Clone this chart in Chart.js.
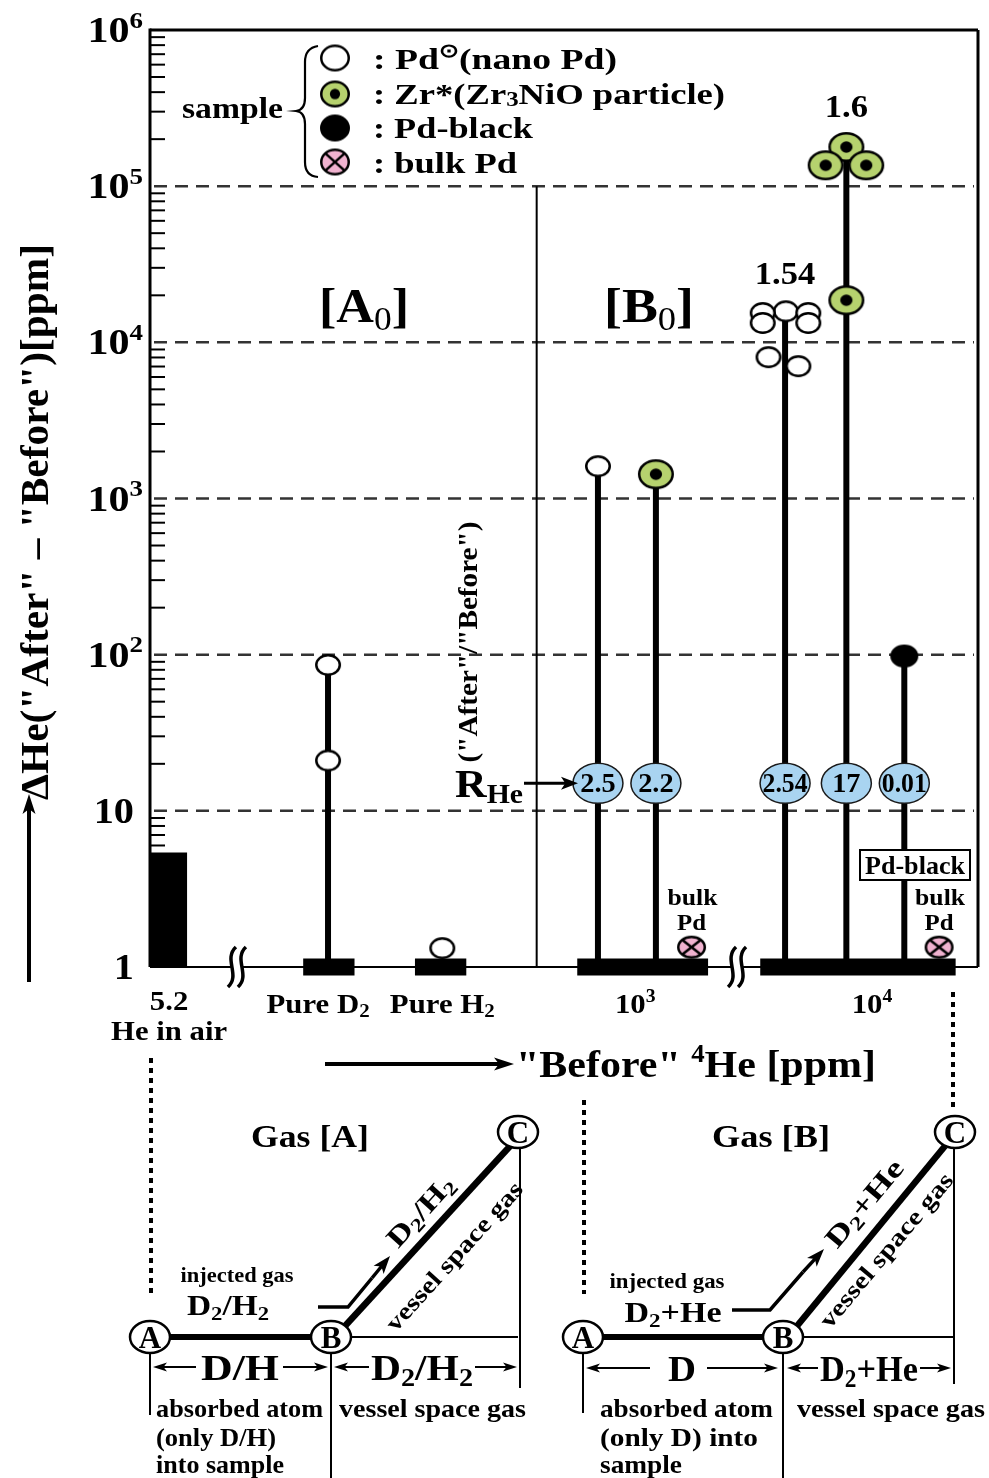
<!DOCTYPE html>
<html>
<head>
<meta charset="utf-8">
<script src="https://cdn.jsdelivr.net/npm/chart.js"></script>
<style>
  html, body { margin: 0; padding: 0; background: #fff; }
  #wrap { width: 989px; height: 1478px; }
</style>
</head>
<body>
<div id="wrap"><canvas id="chart" width="989" height="1478"></canvas></div>
<script>
// ---------- data ----------
// y axis (log) ticks
const yTickValues = [1, 10, 100, 1000, 10000, 100000, 1000000];
const yTickExps = ['', '', '2', '3', '4', '5', '6'];
const gridValues = [10, 100, 1000, 10000, 100000];

// x axis is schematic: positions 0..100 across the frame
const xTickPos = [2.3, 20.3, 35.3, 58.6, 87.2];
const xTickMain = ['5.2', 'Pure D', 'Pure H', '10', '10'];
const xTickScript = ['', '2', '2', '3', '4'];
const breakPos = [10.5, 70.9];
const separatorPos = 46.7;

// He in air bar
const heAirRange = [0, 4.5];
const heAirValue = 5.4;

// thick base bars on the x axis
const baseStart = [18.5, 32.0, 51.6, 73.7];
const baseEnd = [24.7, 38.2, 67.4, 97.3];

// stems: Pure D2, nano Pd 1e3, Zr* 1e3, nano Pd 1e4, Zr* 1e4, Pd-black 1e4
const stemX = [21.5, 54.1, 61.1, 76.7, 84.1, 91.1];
const stemTop = [86, 1610, 1430, 15800, 178000, 98];

// markers
const nanoPdX = [21.5, 21.5, 35.3, 54.1, 76.8, 74.0, 79.5, 74.0, 79.5, 74.7, 78.3];
const nanoPdY = [86, 21, 1.32, 1610, 15800, 15400, 15400, 13300, 13300, 8040, 7040];
const zrX = [61.1, 84.1, 81.6, 86.5, 84.1];
const zrY = [1430, 178000, 136000, 136000, 18600];
const pdBlackX = [91.1];
const pdBlackY = [98];
const bulkPdX = [65.4, 95.3];
const bulkPdY = [1.34, 1.34];

// R_He ratios in the blue ovals
const rheX = [54.1, 61.1, 76.7, 84.1, 91.1];
const rheText = ['2.5', '2.2', '2.54', '17', '0.01'];
const rheLevel = 15;

// ratio labels above clusters
const ratioX = [76.7, 84.1];
const ratioY = [23600, 276000];
const ratioText = ['1.54', '1.6'];

// ---------- helpers ----------
const FONT = '"Liberation Serif", "Times New Roman", serif';

function rich(ctx, parts, x, y, size, o) {
  o = o || {};
  const align = o.align || 'left';
  let total = 0;
  const segs = parts.map(p => {
    const t = p[0], m = p[1] || 'n';
    const wt = p[2] || 'bold';
    let s = size, dy = 0;
    if (m === 'sub') { s = size * 0.68; dy = size * 0.16; }
    if (m === 'sup') { s = size * 0.64; dy = -size * 0.40; }
    if (m === 'low') { s = size * 0.68; dy = size * 0.05; }
    ctx.font = wt + ' ' + s + 'px ' + FONT;
    const wd = ctx.measureText(t).width;
    total += wd;
    return { t, s, dy, wd, wt };
  });
  const sx = o.width ? o.width / total : (o.sx || 1);
  ctx.save();
  ctx.translate(x, y);
  if (o.rot) ctx.rotate(o.rot);
  ctx.scale(sx, 1);
  ctx.fillStyle = o.color || '#000';
  ctx.textAlign = 'left';
  ctx.textBaseline = 'alphabetic';
  let cx = align === 'center' ? -total / 2 : align === 'right' ? -total : 0;
  const vy = o.vmid ? size * 0.34 : 0;
  for (const g of segs) {
    ctx.font = g.wt + ' ' + g.s + 'px ' + FONT;
    ctx.fillText(g.t, cx, g.dy + vy);
    cx += g.wd;
  }
  ctx.restore();
  return total * sx;
}

function arrow(ctx, x1, y1, x2, y2, lw, hl, hw) {
  const a = Math.atan2(y2 - y1, x2 - x1);
  ctx.save();
  ctx.strokeStyle = '#000';
  ctx.fillStyle = '#000';
  ctx.lineWidth = lw;
  ctx.beginPath();
  ctx.moveTo(x1, y1);
  ctx.lineTo(x2 - Math.cos(a) * hl * 0.7, y2 - Math.sin(a) * hl * 0.7);
  ctx.stroke();
  ctx.translate(x2, y2);
  ctx.rotate(a);
  ctx.beginPath();
  ctx.moveTo(0, 0);
  ctx.lineTo(-hl, -hw / 2);
  ctx.lineTo(-hl * 0.75, 0);
  ctx.lineTo(-hl, hw / 2);
  ctx.closePath();
  ctx.fill();
  ctx.restore();
}

function line(ctx, x1, y1, x2, y2, lw, dash) {
  ctx.save();
  ctx.strokeStyle = '#000';
  ctx.lineWidth = lw;
  if (dash) ctx.setLineDash(dash);
  ctx.beginPath();
  ctx.moveTo(x1, y1);
  ctx.lineTo(x2, y2);
  ctx.stroke();
  ctx.restore();
}

function makeMarker(kind, w, h) {
  const c = document.createElement('canvas');
  c.width = w + 4;
  c.height = h + 4;
  const g = c.getContext('2d');
  const cx = c.width / 2, cy = c.height / 2, rx = w / 2, ry = h / 2;
  g.lineWidth = 2.5;
  g.strokeStyle = '#000';
  g.beginPath();
  g.ellipse(cx, cy, rx - 1.25, ry - 1.25, 0, 0, Math.PI * 2);
  if (kind === 'nano') { g.fillStyle = '#fff'; g.fill(); g.stroke(); }
  if (kind === 'zr') {
    g.fillStyle = '#b6d26e'; g.fill(); g.stroke();
    g.beginPath();
    g.ellipse(cx, cy, rx * 0.34, ry * 0.38, 0, 0, Math.PI * 2);
    g.fillStyle = '#000'; g.fill();
  }
  if (kind === 'black') { g.fillStyle = '#000'; g.fill(); g.stroke(); }
  if (kind === 'bulk') {
    g.fillStyle = '#f0b2cf'; g.fill(); g.stroke();
    const d = 0.68;
    g.beginPath();
    g.moveTo(cx - rx * d, cy - ry * d); g.lineTo(cx + rx * d, cy + ry * d);
    g.moveTo(cx + rx * d, cy - ry * d); g.lineTo(cx - rx * d, cy + ry * d);
    g.stroke();
  }
  return c;
}

const nanoImg = makeMarker('nano', 26, 22);
const zrImg = makeMarker('zr', 36, 30);
const blackImg = makeMarker('black', 28, 23);
const bulkImg = makeMarker('bulk', 29, 23);

function pts(xs, ys) { return xs.map((x, i) => ({ x: x, y: ys[i] })); }

// ---------- datasets ----------
const datasets = [];

datasets.push({
  label: 'He in air',
  data: [{ x: heAirRange[0], y: heAirValue }, { x: heAirRange[1], y: heAirValue }],
  borderWidth: 0, pointRadius: 0, fill: 'start', backgroundColor: '#000', order: 10
});

baseStart.forEach((s, i) => {
  datasets.push({
    label: 'base ' + i,
    data: [{ x: s, y: 1 }, { x: baseEnd[i], y: 1 }],
    borderColor: '#000', borderWidth: 17, borderCapStyle: 'butt',
    pointRadius: 0, clip: false, order: 8
  });
});

stemX.forEach((x, i) => {
  datasets.push({
    label: 'stem ' + i,
    data: [{ x: x, y: 1 }, { x: x, y: stemTop[i] }],
    borderColor: '#000', borderWidth: 6, borderCapStyle: 'butt',
    pointRadius: 0, clip: false, order: 6
  });
});

datasets.push({ label: 'Pd (nano Pd)', data: pts(nanoPdX, nanoPdY), showLine: false, pointStyle: nanoImg, pointRadius: 10, order: 1 });
datasets.push({ label: 'Zr*', data: pts(zrX, zrY), showLine: false, pointStyle: zrImg, pointRadius: 10, order: 0 });
datasets.push({ label: 'Pd-black', data: pts(pdBlackX, pdBlackY), showLine: false, pointStyle: blackImg, pointRadius: 10, order: 0 });
datasets.push({ label: 'bulk Pd', data: pts(bulkPdX, bulkPdY), showLine: false, pointStyle: bulkImg, pointRadius: 10, order: 0, clip: false });

// ---------- plugins ----------
const backPlugin = {
  id: 'back',
  beforeDatasetsDraw(chart) {
    const ctx = chart.ctx, a = chart.chartArea;
    const xs = chart.scales.x, ys = chart.scales.y;
    // dashed grid
    gridValues.forEach(v => {
      const y = ys.getPixelForValue(v);
      ctx.save();
      ctx.strokeStyle = '#333';
      ctx.lineWidth = 2.5;
      ctx.setLineDash([13, 8]);
      ctx.beginPath();
      ctx.moveTo(a.left + 4, y);
      ctx.lineTo(a.right - 4, y);
      ctx.stroke();
      ctx.restore();
    });
    // separator between A0 and B0
    const sx = xs.getPixelForValue(separatorPos);
    line(ctx, sx, ys.getPixelForValue(100000), sx, a.bottom, 2);
    // frame
    line(ctx, a.left, a.top, a.right, a.top, 3);
    line(ctx, a.right, a.top, a.right, a.bottom, 3);
    line(ctx, a.left, a.bottom, a.right, a.bottom, 2.2);
    line(ctx, a.left, a.top - 1.5, a.left, a.bottom, 3);
    // minor ticks
    for (let d = 0; d < 6; d++) {
      for (let m = 2; m <= 9; m++) {
        const y = ys.getPixelForValue(m * Math.pow(10, d));
        line(ctx, a.left, y, a.left + 15, y, 2);
      }
    }
  },
  afterDatasetsDraw(chart) {
    const ctx = chart.ctx, a = chart.chartArea;
    const xs = chart.scales.x, ys = chart.scales.y;
    const base = ys.getPixelForValue(1);

    // axis breaks
    breakPos.forEach(p => {
      const x = xs.getPixelForValue(p);
      ctx.save();
      ctx.fillStyle = '#fff';
      ctx.fillRect(x - 6, base - 3, 12, 6);
      ctx.strokeStyle = '#000';
      ctx.lineWidth = 3.5;
      [-5, 5].forEach(o => {
        ctx.beginPath();
        ctx.moveTo(x + o + 4, base - 20);
        ctx.bezierCurveTo(x + o - 9, base - 8, x + o + 9, base + 8, x + o - 4, base + 20);
        ctx.stroke();
      });
      ctx.restore();
    });

    // y tick labels
    yTickValues.forEach((v, i) => {
      const y = ys.getPixelForValue(v) + 12;
      if (yTickExps[i]) rich(ctx, [['10'], [yTickExps[i], 'sup']], 143, y, 36, { align: 'right', sx: 1.17 });
      else rich(ctx, [[String(v)]], 134, y, 36, { align: 'right', sx: 1.12 });
    });

    // x tick labels
    xTickPos.forEach((p, i) => {
      const x = xs.getPixelForValue(p);
      const parts = [[xTickMain[i]]];
      if (xTickScript[i]) parts.push([xTickScript[i], i <= 2 ? 'sub' : 'sup']);
      rich(ctx, parts, x, i === 0 ? 1010 : 1013, 28, { align: 'center', sx: 1.1 });
    });
    rich(ctx, [['He in air']], xs.getPixelForValue(xTickPos[0]), 1040, 28, { align: 'center', width: 116 });

    // region labels
    rich(ctx, [['[A'], ['0', 'sub', 'normal'], [']']], 364, 322, 48, { align: 'center', width: 90 });
    rich(ctx, [['[B'], ['0', 'sub', 'normal'], [']']], 649, 322, 48, { align: 'center', width: 90 });

    // ratio labels above clusters
    ratioX.forEach((p, i) => {
      rich(ctx, [[ratioText[i]]], xs.getPixelForValue(p), ys.getPixelForValue(ratioY[i]), 32, { align: 'center', sx: 1.08 });
    });

    // R_He ovals
    const ry = ys.getPixelForValue(rheLevel);
    rheX.forEach((p, i) => {
      const x = xs.getPixelForValue(p);
      ctx.save();
      ctx.beginPath();
      ctx.ellipse(x, ry, 25, 20, 0, 0, Math.PI * 2);
      ctx.fillStyle = '#a9d4f1';
      ctx.fill();
      ctx.lineWidth = 1.5;
      ctx.strokeStyle = '#1a1a1a';
      ctx.stroke();
      ctx.restore();
      ctx.font = 'bold 27px ' + FONT;
      const w = ctx.measureText(rheText[i]).width;
      rich(ctx, [[rheText[i]]], x, ry + 9, 27, { align: 'center', width: Math.min(w * 1.05, 45) });
    });
    rich(ctx, [['R'], ['He', 'sub']], 455, 797, 40, { width: 68 });
    arrow(ctx, 524, ry, 578, ry, 3, 17, 13);

    // Pd-black box
    ctx.save();
    ctx.fillStyle = '#fff';
    ctx.fillRect(860, 850, 110, 30);
    ctx.lineWidth = 2;
    ctx.strokeStyle = '#000';
    ctx.strokeRect(860, 850, 110, 30);
    ctx.restore();
    rich(ctx, [['Pd-black']], 915, 874, 25, { align: 'center', width: 100 });

    // bulk Pd labels
    bulkPdX.forEach(p => {
      const x = xs.getPixelForValue(p);
      rich(ctx, [['bulk']], x + 1, 905, 24, { align: 'center', width: 50 });
      rich(ctx, [['Pd']], x, 930, 24, { align: 'center', width: 29 });
    });

    // rotated ratio caption
    rich(ctx, [['("After"/"Before")']], 468, 642, 27, { align: 'center', width: 241, rot: -Math.PI / 2, vmid: true });

    // y title + arrow
    rich(ctx, [['\u0394He("After" \u2013 "Before")[ppm]']], 34, 522, 40, { align: 'center', width: 556, rot: -Math.PI / 2, vmid: true });
    arrow(ctx, 29, 982, 29, 794, 4, 20, 13);

    // x title + arrow
    arrow(ctx, 325, 1064, 514, 1064, 4, 20, 13);
    rich(ctx, [['"Before" '], ['4', 'sup'], ['He [ppm]']], 516, 1077, 38, { width: 360 });

    // legend
    const legImgs = [makeMarker('nano', 30, 27), makeMarker('zr', 30, 27), makeMarker('black', 30, 27), makeMarker('bulk', 30, 27)];
    const legY = [58, 94, 128, 162];
    legImgs.forEach((im, i) => ctx.drawImage(im, 335 - im.width / 2, legY[i] - im.height / 2));
    rich(ctx, [[': Pd'], ['\u2299', 'sup'], ['(nano Pd)']], 373, 69, 30, { width: 244 });
    rich(ctx, [[': Zr*(Zr'], ['3', 'low'], ['NiO particle)']], 373, 104, 30, { width: 352 });
    rich(ctx, [[': Pd-black']], 373, 138, 30, { width: 160 });
    rich(ctx, [[': bulk Pd']], 373, 173, 30, { width: 144 });
    rich(ctx, [['sample']], 182, 118, 30, { width: 101 });
    ctx.save();
    ctx.lineWidth = 2.2;
    ctx.strokeStyle = '#000';
    ctx.beginPath();
    ctx.moveTo(318, 46);
    ctx.quadraticCurveTo(305, 48, 305, 62);
    ctx.lineTo(305, 98);
    ctx.quadraticCurveTo(305, 110, 296, 111);
    ctx.quadraticCurveTo(305, 112, 305, 124);
    ctx.lineTo(305, 162);
    ctx.quadraticCurveTo(305, 176, 318, 177);
    ctx.stroke();
    ctx.restore();

    drawDiagram(ctx);
  }
};

function circLetter(ctx, x, y, letter) {
  ctx.save();
  ctx.beginPath();
  ctx.ellipse(x, y, 20, 16, 0, 0, Math.PI * 2);
  ctx.fillStyle = '#fff';
  ctx.fill();
  ctx.lineWidth = 2.5;
  ctx.strokeStyle = '#000';
  ctx.stroke();
  ctx.restore();
  rich(ctx, [[letter]], x, y + 11, 31, { align: 'center' });
}

function bentArrow(ctx, pts2, tip) {
  ctx.save();
  ctx.strokeStyle = '#000';
  ctx.lineWidth = 3.5;
  ctx.beginPath();
  ctx.moveTo(pts2[0][0], pts2[0][1]);
  for (let i = 1; i < pts2.length; i++) ctx.lineTo(pts2[i][0], pts2[i][1]);
  ctx.stroke();
  ctx.restore();
  const last = pts2[pts2.length - 1];
  arrow(ctx, last[0], last[1], tip[0], tip[1], 3.5, 18, 13);
}

function drawDiagram(ctx) {
  // dotted guide lines
  line(ctx, 151, 1058, 151, 1296, 4, [5, 5]);
  line(ctx, 584, 1100, 584, 1294, 4, [5, 5]);
  line(ctx, 953, 992, 953, 1112, 4, [5, 5]);

  // ----- Gas [A] -----
  rich(ctx, [['Gas [A]']], 310, 1147, 32, { align: 'center', width: 118 });
  line(ctx, 331, 1337, 518, 1337, 2);
  line(ctx, 520, 1148, 520, 1388, 2);
  line(ctx, 150, 1353, 150, 1415, 2);
  line(ctx, 331, 1353, 331, 1478, 2);
  line(ctx, 150, 1337, 331, 1337, 6);
  line(ctx, 345, 1326, 512, 1144, 6.5);
  circLetter(ctx, 150, 1337, 'A');
  circLetter(ctx, 331, 1337, 'B');
  circLetter(ctx, 518, 1132, 'C');
  bentArrow(ctx, [[318, 1307], [348, 1307], [372, 1278]], [390, 1256]);
  rich(ctx, [['injected gas']], 237, 1282, 22, { align: 'center', width: 113 });
  rich(ctx, [['D'], ['2', 'sub'], ['/H'], ['2', 'sub']], 228, 1315, 29, { align: 'center', width: 82 });
  const rotA = -48 * Math.PI / 180;
  rich(ctx, [['D'], ['2', 'sub'], ['/H'], ['2', 'sub']], 420, 1211, 28, { align: 'center', width: 86, rot: rotA, vmid: true });
  rich(ctx, [['vessel space gas']], 454, 1256, 24, { align: 'center', width: 192, rot: rotA, vmid: true });
  // dimensions
  arrow(ctx, 196, 1367, 153, 1367, 2, 14, 9);
  rich(ctx, [['D/H']], 240, 1380, 36, { align: 'center', width: 78 });
  arrow(ctx, 283, 1367, 328, 1367, 2, 14, 9);
  arrow(ctx, 369, 1367, 334, 1367, 2, 14, 9);
  rich(ctx, [['D'], ['2', 'sub'], ['/H'], ['2', 'sub']], 422, 1380, 36, { align: 'center', width: 102 });
  arrow(ctx, 475, 1367, 517, 1367, 2, 14, 9);
  rich(ctx, [['absorbed atom']], 156, 1417, 26, { width: 167 });
  rich(ctx, [['(only D/H)']], 156, 1446, 26, { width: 120 });
  rich(ctx, [['into sample']], 156, 1473, 26, { width: 128 });
  rich(ctx, [['vessel space gas']], 339, 1417, 26, { width: 187 });

  // ----- Gas [B] -----
  rich(ctx, [['Gas [B]']], 771, 1147, 32, { align: 'center', width: 118 });
  line(ctx, 783, 1337, 953, 1337, 2);
  line(ctx, 954, 1148, 954, 1384, 2);
  line(ctx, 583, 1353, 583, 1413, 2);
  line(ctx, 783, 1353, 783, 1478, 2);
  line(ctx, 583, 1337, 783, 1337, 6);
  line(ctx, 797, 1326, 945, 1146, 6.5);
  circLetter(ctx, 583, 1337, 'A');
  circLetter(ctx, 783, 1337, 'B');
  circLetter(ctx, 955, 1132, 'C');
  bentArrow(ctx, [[732, 1310], [770, 1310], [803, 1272]], [824, 1249]);
  rich(ctx, [['injected gas']], 667, 1288, 22, { align: 'center', width: 115 });
  rich(ctx, [['D'], ['2', 'sub'], ['+He']], 673, 1322, 29, { align: 'center', width: 97 });
  const rotB = -50 * Math.PI / 180;
  rich(ctx, [['D'], ['2', 'sub'], ['+He']], 864, 1203, 28, { align: 'center', width: 106, rot: rotB, vmid: true });
  rich(ctx, [['vessel space gas']], 886, 1250, 24, { align: 'center', width: 194, rot: rotB, vmid: true });
  arrow(ctx, 650, 1368, 586, 1368, 2, 14, 9);
  rich(ctx, [['D']], 682, 1381, 36, { align: 'center', width: 28 });
  arrow(ctx, 707, 1368, 778, 1368, 2, 14, 9);
  arrow(ctx, 818, 1368, 787, 1368, 2, 14, 9);
  rich(ctx, [['D'], ['2', 'sub'], ['+He']], 869, 1381, 36, { align: 'center', width: 98 });
  arrow(ctx, 920, 1368, 951, 1368, 2, 14, 9);
  rich(ctx, [['absorbed atom']], 600, 1417, 26, { width: 173 });
  rich(ctx, [['(only D) into']], 600, 1446, 26, { width: 158 });
  rich(ctx, [['sample']], 600, 1473, 26, { width: 82 });
  rich(ctx, [['vessel space gas']], 797, 1417, 26, { width: 188 });
}

// ---------- chart ----------
new Chart(document.getElementById('chart'), {
  type: 'line',
  data: { datasets: datasets },
  options: {
    responsive: false,
    animation: false,
    events: [],
    layout: { padding: { left: 150, right: 1, top: 30, bottom: 511 } },
    plugins: { legend: { display: false }, tooltip: { enabled: false } },
    scales: {
      x: { type: 'linear', min: 0, max: 100, display: false },
      y: { type: 'logarithmic', min: 1, max: 1000000, display: false }
    }
  },
  plugins: [backPlugin]
});
</script>
</body>
</html>
